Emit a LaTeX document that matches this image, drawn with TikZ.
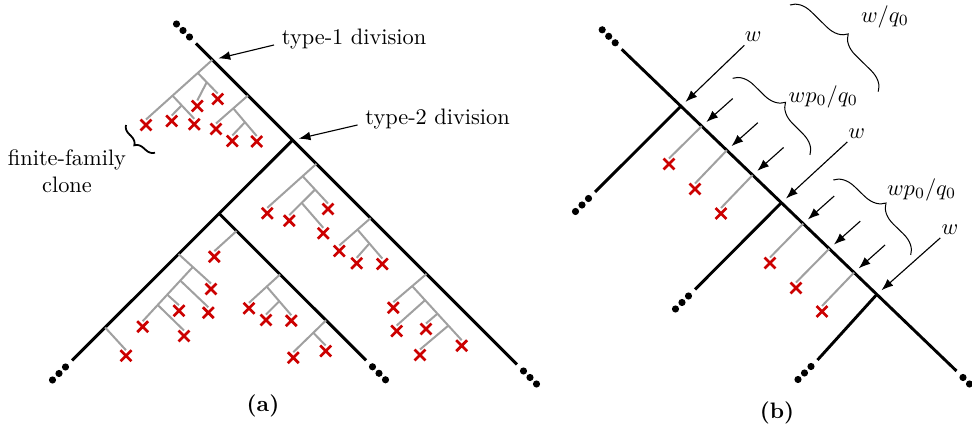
\documentclass[tikz,border=0pt]{standalone}
\usepackage{amsmath}
\usepackage{xcolor}
\usepackage{tikz}
\usetikzlibrary{arrows.meta, shapes.misc, decorations.pathreplacing}
\definecolor{CloneGray}{HTML}{A0A0A0}
\definecolor{LeafRed}{HTML}{CC0000}

\begin{document}
\begin{tikzpicture}[
  x=0.447pt, y=-0.447pt,
  trunk/.style={line width=1.3pt},
  clone/.style={draw=CloneGray, line width=0.9pt},
  leaf/.style={cross out, draw=LeafRed, line width=1.2pt, minimum size=2.9pt, inner sep=0pt, outer sep=1pt},
  arr/.style={-Latex, line width=0.5pt, shorten >=2.8pt},
  brc/.style={decorate, decoration={brace, amplitude=9pt}, line width=0.45pt},
  lbl/.style={inner sep=1.5pt}
]
\useasboundingbox (0,0) rectangle (972,430);
\coordinate (aT) at (196,43.5);
\coordinate (aB) at (517,364.5);
\coordinate (bE) at (72,360.5);
\coordinate (cE) at (366,360.3);
\draw[trunk] (aT) -- coordinate[pos=.051] (r1) coordinate[pos=.162] (r2) coordinate[pos=.301] (j2) coordinate[pos=.375] (r3) coordinate[pos=.544] (r4) coordinate[pos=.718] (r5) (aB);
\draw[trunk] (j2) -- coordinate[pos=.333] (j3) coordinate[pos=.517] (r6) coordinate[pos=.850] (r7) (bE);
\draw[trunk] (j3) -- coordinate[pos=.119] (r8) coordinate[pos=.415] (r9) coordinate[pos=.728] (r10) (cE);
\foreach \n/\x/\y in {l1/146/125, l2/217.7/99, l3/197.3/106, l4/194.3/124.3, l5/171.7/121,
  l6/216/129, l7/256.7/141.5, l8/232.3/141, l9/267.3/213.3, l10/328/209, l11/289.3/220.7, l12/323.3/233.3,
  l13/339.3/251, l14/382.3/264, l15/356.7/263.3, l16/393.3/307.7, l17/461.7/345.7, l18/396.7/331,
  l19/426/329, l20/420/355, l21/211/289, l22/142.7/326.7, l23/208.3/312.7, l24/179/310.7, l25/184/336,
  l26/126/355.7, l27/214.3/256.7, l28/249/308.3, l29/291.3/320.7, l30/266/320, l31/293.3/357.7, l32/325.7/351,
  m1/669/164, m2/695/189, m3/721/213.5, m4/770/263, m5/796/288, m6/822/311.5}
  \node[leaf] (\n) at (\x,\y) {};
\draw[clone] (r1) -- coordinate[pos=.22] (r1a) coordinate[pos=.6] (r1b) (l1.north);
\draw[clone] (r1a) -- coordinate[pos=.45] (r1c) (l2.north);
\draw[clone] (r1c) -- (l3.north);
\draw[clone] (r1b) -- coordinate[pos=.42] (r1d) (l4.north);
\draw[clone] (r1d) -- (l5.north);
\draw[clone] (r2) -- coordinate[pos=.46] (r2a) (l6.north);
\draw[clone] (r2a) -- coordinate[pos=.5] (r2b) (l7.north);
\draw[clone] (r2b) -- (l8.north);
\draw[clone] (r3) -- coordinate[pos=.28] (r3a) (l9.north);
\draw[clone] (r3a) -- coordinate[pos=.49] (r3b) (l10.north);
\draw[clone] (r3b) -- coordinate[pos=.52] (r3c) (l11.north);
\draw[clone] (r3c) -- (l12.north);
\draw[clone] (r4) -- coordinate[pos=.42] (r4a) (l13.north);
\draw[clone] (r4a) -- coordinate[pos=.48] (r4b) (l14.north);
\draw[clone] (r4b) -- (l15.north);
\draw[clone] (r5) -- coordinate[pos=.43] (r5a) (l16.north);
\draw[clone] (r5a) -- coordinate[pos=.26] (r5b) coordinate[pos=.51] (r5c) coordinate[pos=.73] (r5d) (l17.north);
\draw[clone] (r5b) -- (l18.north);
\draw[clone] (r5c) -- (l19.north);
\draw[clone] (r5d) -- (l20.north);
\draw[clone] (r6) -- coordinate[pos=.44] (r6a) (l21.north);
\draw[clone] (r6a) -- coordinate[pos=.25] (r6b) coordinate[pos=.51] (r6c) coordinate[pos=.7] (r6d) (l22.north);
\draw[clone] (r6b) -- (l23.north);
\draw[clone] (r6c) -- (l24.north);
\draw[clone] (r6d) -- (l25.north);
\draw[clone] (r7) -- (l26.north);
\draw[clone] (r8) -- (l27.north);
\draw[clone] (r9) -- coordinate[pos=.43] (r9a) (l28.north);
\draw[clone] (r9a) -- coordinate[pos=.51] (r9b) (l29.north);
\draw[clone] (r9b) -- (l30.north);
\draw[clone] (r10) -- coordinate[pos=.39] (r10a) (l31.north);
\draw[clone] (r10a) -- (l32.north);
\node[anchor=base west] (div1) at (274,45) {type-1 division};
\node[anchor=base west] (div2) at (357.5,125) {type-2 division};
\draw[arr] (div1.base west) -- (r1);
\draw[arr] (div2.base west) -- (j2);
\node[align=center] (ffc) at (67,171) {finite-family\\clone};
\coordinate (ffa) at (155,152.7);
\coordinate (ffb) at (126,125);
\draw[brc, decoration={amplitude=4pt}, line width=0.8pt] (ffa) -- (ffb);
\node (capa) at (263,406) {\textbf{(a)}};
\coordinate (rT) at (621.7,49.3);
\coordinate (rB) at (956.5,371);
\coordinate (k1E) at (595,192);
\coordinate (k2E) at (695,289.5);
\coordinate (k3E) at (817.5,360);
\draw[trunk] (rT) -- coordinate[pos=.177] (k1) coordinate[pos=.239] (s1) coordinate[pos=.314] (s2) coordinate[pos=.391] (s3) coordinate[pos=.477] (k2) coordinate[pos=.542] (s4) coordinate[pos=.620] (s5) coordinate[pos=.694] (s6) coordinate[pos=.762] (k3) (rB);
\draw[trunk] (k1) -- (k1E);
\draw[trunk] (k2) -- (k2E);
\draw[trunk] (k3) -- (k3E);
\foreach \s/\m in {s1/m1, s2/m2, s3/m3, s4/m4, s5/m5, s6/m6} {
  \draw[clone] (\s) -- (\m.north);
  \path (\s) ++(31,-27.6) coordinate (t\s);
  \draw[arr] (t\s) -- (\s);
}
\node[lbl] (w1) at (753.3,36.7) {$w$};
\node[lbl] (w2) at (856.7,133.3) {$w$};
\node[lbl] (w3) at (950,229.3) {$w$};
\draw[arr] (w1) -- (k1);
\draw[arr] (w2) -- (k2);
\draw[arr] (w3) -- (k3);
\coordinate (bra) at (790,5);
\coordinate (brb) at (878.3,91.7);
\coordinate (brc) at (732.7,78.3);
\coordinate (brd) at (810,155);
\coordinate (bre) at (833.3,180);
\coordinate (brf) at (910.7,255);
\draw[brc] (bra) -- (brb);
\draw[brc] (brc) -- (brd);
\draw[brc] (bre) -- (brf);
\node (q1) at (885,16.7) {$w/q_0$};
\node (q2) at (823.3,96.7) {$wp_0/q_0$};
\node (q3) at (921.7,190) {$wp_0/q_0$};
\node (capb) at (777,413) {\textbf{(b)}};
\foreach \e/\u/\v in {aT/-1/-1, aB/1/1, bE/-1/1, cE/1/1, rT/-1/-1, rB/1/1, k1E/-1/1, k2E/-1/1, k3E/-1/1}
  \foreach \k in {1,2,3}
    \fill (\e) ++(\u*6.5*\k, \v*6.5*\k) circle[radius=1.6pt];
\end{tikzpicture}
\end{document}
